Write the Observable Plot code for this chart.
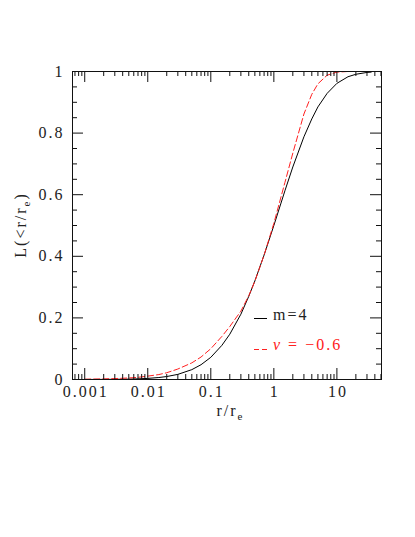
<!DOCTYPE html>
<html>
<head>
<meta charset="utf-8">
<script src="https://cdn.jsdelivr.net/npm/d3@7"></script>
<script src="https://cdn.jsdelivr.net/npm/@observablehq/plot@0.6"></script>
<style>
  html, body { margin: 0; padding: 0; background: #fff; }
  svg text { letter-spacing: 2px; font-family: 'Liberation Serif', 'DejaVu Serif', serif; }
</style>
</head>
<body>
<div id="chart"></div>
<script>
// Radii r/r_e at which values were read
const radii = [0.001, 0.002, 0.003, 0.005, 0.007, 0.01, 0.015, 0.02, 0.03, 0.05, 0.07, 0.1, 0.15, 0.2, 0.3, 0.4, 0.5, 0.7, 1, 1.5, 2, 3, 4, 5, 7, 10, 15, 20, 30, 35];
// m=4 (black solid)
const lumM4 = [0.0001, 0.0003, 0.0006, 0.0012, 0.0021, 0.0036, 0.0064, 0.0096, 0.0166, 0.032, 0.048, 0.072, 0.111, 0.147, 0.212, 0.270, 0.320, 0.404, 0.500, 0.613, 0.690, 0.788, 0.846, 0.885, 0.929, 0.9615, 0.983, 0.991, 0.997, 0.998];
// nu = -0.6 (red dashed), defined up to r/r_e = 15
const radiiNu = [0.001, 0.002, 0.003, 0.005, 0.007, 0.01, 0.015, 0.02, 0.03, 0.05, 0.07, 0.1, 0.15, 0.2, 0.3, 0.4, 0.5, 0.7, 1, 1.5, 2, 3, 4, 5, 7, 10, 15];
const lumNu = [0.001, 0.002, 0.003, 0.005, 0.007, 0.011, 0.016, 0.022, 0.034, 0.054, 0.073, 0.100, 0.140, 0.172, 0.222, 0.272, 0.319, 0.404, 0.507, 0.640, 0.735, 0.862, 0.926, 0.960, 0.988, 0.998, 1.0];

const xTickValues = [0.001, 0.01, 0.1, 1, 10];
const xTickLabels = ["0.001", "0.01", "0.1", "1", "10"];
const yTickValues = [0, 0.2, 0.4, 0.6, 0.8, 1];
const yTickLabels = ["0", "0.2", "0.4", "0.6", "0.8", "1"];

const W = 415, H = 537;
const mL = 72, mR = 34, mT = 71, mB = 158;
const innerW = W - mL - mR, innerH = H - mT - mB;
const xDomain = [0.00064, 51];

// minor ticks (2..9 × decades) inside domain
const xMinor = [];
for (let e = -4; e <= 1; e++) for (let k = 2; k <= 9; k++) {
  const v = k * Math.pow(10, e);
  if (v > xDomain[0] && v < xDomain[1]) xMinor.push(v);
}
const yMinor = d3.range(0, 21).map(i => i * 0.05).filter(v => !yTickValues.some(t => Math.abs(t - v) < 1e-9));

const m4 = radii.map((r, i) => ({r, L: lumM4[i]}));
const nu = radiiNu.map((r, i) => ({r, L: lumNu[i]}));

const majorLen = 11, minorLen = 5;
const ink = "#111";
const font = "'Liberation Serif', 'DejaVu Serif', serif";

const chart = Plot.plot({
  width: W, height: H,
  marginLeft: mL, marginRight: mR, marginTop: mT, marginBottom: mB,
  x: {type: "log", domain: xDomain, axis: null},
  y: {domain: [0, 1], axis: null},
  style: {fontFamily: font, background: "#fff"},
  marks: [
    Plot.line(m4, {x: "r", y: "L", stroke: "#000", strokeWidth: 1}),
    Plot.line(nu, {x: "r", y: "L", stroke: "#ff2020", strokeWidth: 1, strokeDasharray: "6,3"}),
    // bottom ticks
    Plot.tickX(xTickValues, {x: d => d, insetTop: innerH - majorLen, stroke: ink}),
    Plot.tickX(xMinor, {x: d => d, insetTop: innerH - minorLen, stroke: ink}),
    // top ticks
    Plot.tickX(xTickValues, {x: d => d, insetBottom: innerH - majorLen, stroke: ink}),
    Plot.tickX(xMinor, {x: d => d, insetBottom: innerH - minorLen, stroke: ink}),
    // left ticks
    Plot.tickY(yTickValues, {y: d => d, insetRight: innerW - majorLen, stroke: ink}),
    Plot.tickY(yMinor, {y: d => d, insetRight: innerW - minorLen, stroke: ink}),
    // right ticks
    Plot.tickY(yTickValues, {y: d => d, insetLeft: innerW - majorLen, stroke: ink}),
    Plot.tickY(yMinor, {y: d => d, insetLeft: innerW - minorLen, stroke: ink}),
    Plot.frame({stroke: ink, strokeWidth: 1}),
    // tick labels
    Plot.text(xTickValues, {x: d => d, text: (d, i) => xTickLabels[i], frameAnchor: "bottom", dy: 17, dx: 1, fontSize: 16, fill: "#222", fontFamily: font}),
    Plot.text(yTickValues, {y: d => d, text: (d, i) => yTickLabels[i], frameAnchor: "left", textAnchor: "end", dx: -8, fontSize: 16, fill: "#222", fontFamily: font})
  ]
});
document.getElementById("chart").appendChild(chart);

// Titles and legend
const svg = d3.select(chart);
const xt = svg.append("text")
  .attr("x", mL + innerW / 2 + 4).attr("y", 416)
  .attr("text-anchor", "middle")
  .attr("font-family", font).attr("font-size", 16).attr("fill", "#222");
xt.append("tspan").text("r/r");
xt.append("tspan").attr("font-size", 11).attr("dy", 4).text("e");

const yt = svg.append("text")
  .attr("transform", `translate(26,${mT + innerH / 2}) rotate(-90)`)
  .attr("text-anchor", "middle")
  .attr("font-family", font).attr("font-size", 16).attr("fill", "#222");
yt.append("tspan").text("L(<r/r");
yt.append("tspan").attr("font-size", 11).attr("dy", 4).text("e");
yt.append("tspan").attr("dy", -4).text(")");

const lg = svg.append("g").attr("font-family", font).attr("font-size", 16).attr("text-anchor", "start");
lg.append("line").attr("x1", 254).attr("x2", 267).attr("y1", 318.5).attr("y2", 318.5).attr("stroke", "#000");
lg.append("text").attr("x", 273).attr("y", 320).attr("fill", "#222").attr("text-anchor", "start").text("m=4");
lg.append("line").attr("x1", 254).attr("x2", 268).attr("y1", 349.5).attr("y2", 349.5)
  .attr("stroke", "#ff2020").attr("stroke-dasharray", "5,3");
const nt = lg.append("text").attr("x", 273).attr("y", 350).attr("fill", "#ff2020").attr("text-anchor", "start");
nt.append("tspan").attr("font-style", "italic").text("ν");
nt.append("tspan").text(" = −0.6");
</script>
</body>
</html>
